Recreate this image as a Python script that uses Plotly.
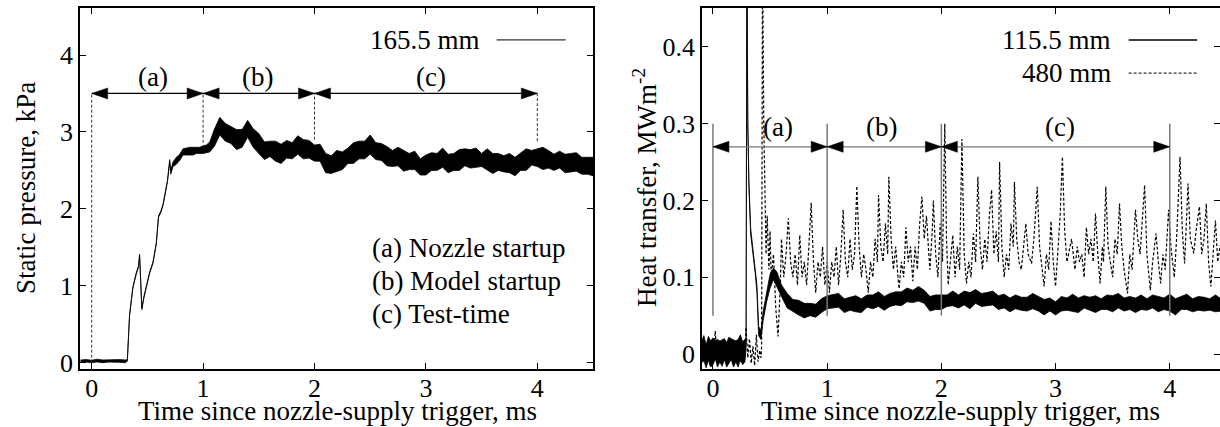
import plotly.graph_objects as go

# ---------------- data: left panel (static pressure, kPa) ----------------
p_t = [-0.10, -0.05, 0.00, 0.05, 0.10, 0.15, 0.20, 0.25, 0.30, 0.32, 0.34, 0.37, 0.40, 0.42, 0.43,
       0.45, 0.47, 0.49, 0.52, 0.55, 0.58, 0.60, 0.62, 0.64, 0.66, 0.68, 0.70, 0.71, 0.73, 0.76,
       0.79, 0.82, 0.85, 0.88, 0.91, 0.94, 0.97, 1.00, 1.03, 1.06,
       1.10, 1.15, 1.20, 1.25, 1.30, 1.35, 1.40, 1.45, 1.50, 1.55, 1.60, 1.65, 1.70, 1.75, 1.80,
       1.85, 1.90, 1.95, 2.00, 2.05, 2.10, 2.15, 2.20, 2.25, 2.30, 2.35, 2.40, 2.45, 2.50, 2.55,
       2.60, 2.65, 2.70, 2.75, 2.80, 2.85, 2.90, 2.95, 3.00, 3.05, 3.10, 3.15, 3.20, 3.25, 3.30,
       3.35, 3.40, 3.45, 3.50, 3.55, 3.60, 3.65, 3.70, 3.75, 3.80, 3.85, 3.90, 3.95, 4.00, 4.05,
       4.10, 4.15, 4.20, 4.25, 4.30, 4.35, 4.40, 4.45, 4.50]
p_mid = [0.02, 0.02, 0.02, 0.025, 0.02, 0.02, 0.025, 0.02, 0.02, 0.03, 0.62, 0.98, 1.16, 1.25, 1.40,
         0.70, 0.86, 0.99, 1.17, 1.30, 1.55, 1.90, 1.96, 2.05, 2.20, 2.36, 2.62, 2.48, 2.58, 2.62,
         2.68, 2.73, 2.75, 2.74, 2.76, 2.75, 2.77, 2.76, 2.78, 2.80,
         2.93, 3.05, 3.02, 2.95, 2.88, 2.95, 3.02, 2.93, 2.82, 2.78, 2.76, 2.74, 2.74, 2.76, 2.78,
         2.80, 2.79, 2.77, 2.74, 2.70, 2.62, 2.56, 2.60, 2.65, 2.68, 2.72, 2.76, 2.80, 2.81, 2.76,
         2.72, 2.70, 2.67, 2.66, 2.64, 2.62, 2.60, 2.57, 2.58, 2.60, 2.62, 2.63, 2.62, 2.61, 2.63,
         2.66, 2.67, 2.66, 2.64, 2.63, 2.61, 2.60, 2.60, 2.58, 2.57, 2.59, 2.63, 2.67, 2.67, 2.66,
         2.64, 2.63, 2.62, 2.61, 2.60, 2.59, 2.58, 2.56, 2.55]
p_up = [0.015, 0.02, 0.012, 0.02, 0.015, 0.018, 0.012, 0.02, 0.015, 0.01, 0.01, 0.01, 0.01, 0.01, 0.01,
        0.01, 0.01, 0.01, 0.01, 0.01, 0.01, 0.01, 0.01, 0.01, 0.01, 0.01, 0.02, 0.02, 0.03, 0.05,
        0.03, 0.05, 0.04, 0.06, 0.04, 0.05, 0.03, 0.06, 0.05, 0.07,
        0.10, 0.14, 0.09, 0.12, 0.15, 0.08, 0.13, 0.11, 0.16, 0.09, 0.12, 0.14, 0.10, 0.13, 0.08,
        0.15, 0.11, 0.12, 0.09, 0.14, 0.10, 0.13, 0.16, 0.09, 0.11, 0.14, 0.12, 0.08, 0.15, 0.10,
        0.13, 0.11, 0.09, 0.14, 0.12, 0.10, 0.15, 0.08, 0.12, 0.13, 0.10, 0.16, 0.09, 0.11, 0.14,
        0.12, 0.10, 0.13, 0.08, 0.15, 0.11, 0.12, 0.09, 0.14, 0.10, 0.13, 0.15, 0.09, 0.11, 0.14,
        0.12, 0.08, 0.13, 0.10, 0.12, 0.14, 0.09, 0.11, 0.12]
p_dn = [0.015, 0.012, 0.02, 0.015, 0.02, 0.012, 0.018, 0.015, 0.02, 0.01, 0.01, 0.01, 0.01, 0.01, 0.01,
        0.01, 0.01, 0.01, 0.01, 0.01, 0.01, 0.01, 0.01, 0.01, 0.01, 0.01, 0.02, 0.03, 0.03, 0.04,
        0.05, 0.03, 0.05, 0.04, 0.06, 0.03, 0.05, 0.04, 0.05, 0.06,
        0.12, 0.09, 0.14, 0.10, 0.11, 0.15, 0.09, 0.13, 0.10, 0.14, 0.08, 0.12, 0.15, 0.10, 0.13,
        0.09, 0.14, 0.11, 0.12, 0.08, 0.15, 0.10, 0.12, 0.14, 0.09, 0.13, 0.11, 0.15, 0.10, 0.12,
        0.09, 0.14, 0.12, 0.10, 0.15, 0.11, 0.09, 0.13, 0.14, 0.10, 0.12, 0.09, 0.15, 0.11, 0.13,
        0.10, 0.14, 0.12, 0.09, 0.13, 0.15, 0.10, 0.12, 0.11, 0.14, 0.09, 0.13, 0.10, 0.12, 0.15,
        0.11, 0.13, 0.09, 0.14, 0.12, 0.10, 0.13, 0.11, 0.12]

# ---------------- data: right panel (heat transfer, MW/m^2) ----------------
h1_t = [-0.10, -0.08, -0.06, -0.04, -0.02, 0.00, 0.02, 0.04, 0.06, 0.08, 0.10, 0.12, 0.14, 0.16,
        0.18, 0.20, 0.22, 0.24, 0.26, 0.28,
        0.29, 0.297, 0.305, 0.315, 0.33, 0.35, 0.37, 0.385, 0.40, 0.42, 0.44,
        0.47, 0.50, 0.53, 0.56, 0.60, 0.65, 0.70, 0.75, 0.80, 0.85, 0.90, 0.95, 1.00,
        1.05, 1.10, 1.15, 1.20, 1.25, 1.30, 1.35, 1.40, 1.45, 1.50, 1.55, 1.60, 1.65, 1.70, 1.75,
        1.80, 1.85, 1.90, 1.95, 2.00, 2.05, 2.10, 2.15, 2.20, 2.25, 2.30, 2.35, 2.40, 2.45, 2.50,
        2.55, 2.60, 2.65, 2.70, 2.75, 2.80, 2.85, 2.90, 2.95, 3.00, 3.05, 3.10, 3.15, 3.20, 3.25,
        3.30, 3.35, 3.40, 3.45, 3.50, 3.55, 3.60, 3.65, 3.70, 3.75, 3.80, 3.85, 3.90, 3.95, 4.00,
        4.05, 4.10, 4.15, 4.20, 4.25, 4.30, 4.35, 4.40, 4.45]
h1_mid = [0.002, 0.004, 0.0, 0.005, 0.003, 0.001, 0.006, 0.002, 0.004, 0.0, 0.005, 0.003, 0.002, 0.006,
          0.001, 0.004, 0.003, 0.005, 0.002, 0.004,
          0.01, 0.52, 0.30, 0.22, 0.16, 0.135, 0.11, 0.085, 0.03, 0.025, 0.05,
          0.075, 0.095, 0.105, 0.097, 0.082, 0.07, 0.064, 0.06, 0.058, 0.057, 0.058, 0.062, 0.068,
          0.070, 0.068, 0.066, 0.065, 0.064, 0.065, 0.067, 0.069, 0.070, 0.069, 0.070, 0.071, 0.074,
          0.076, 0.077, 0.076, 0.075, 0.068, 0.066, 0.068, 0.070, 0.070, 0.071, 0.072, 0.072, 0.073,
          0.072, 0.071, 0.070, 0.069, 0.068, 0.067, 0.066, 0.066, 0.067, 0.067, 0.066, 0.064, 0.063,
          0.062, 0.064, 0.065, 0.066, 0.066, 0.067, 0.066, 0.065, 0.066, 0.067, 0.068, 0.067, 0.066,
          0.066, 0.065, 0.066, 0.066, 0.067, 0.067, 0.066, 0.066, 0.064, 0.066, 0.067, 0.066, 0.065,
          0.066, 0.065, 0.066, 0.065]
h1_up = [0.015, 0.02, 0.012, 0.018, 0.014, 0.02, 0.012, 0.017, 0.013, 0.019, 0.015, 0.012, 0.02, 0.014,
         0.018, 0.013, 0.016, 0.02, 0.014, 0.015,
         0.003, 0.0, 0.003, 0.003, 0.004, 0.004, 0.005, 0.005, 0.006, 0.006, 0.006,
         0.008, 0.009, 0.007, 0.010, 0.008, 0.009, 0.007, 0.010, 0.008, 0.009, 0.007, 0.010, 0.008,
         0.008, 0.011, 0.006, 0.009, 0.012, 0.007, 0.010, 0.008, 0.011, 0.006, 0.009, 0.010, 0.007,
         0.010, 0.006, 0.012, 0.008, 0.007, 0.011, 0.009, 0.007, 0.012, 0.006, 0.010, 0.008, 0.011,
         0.007, 0.009, 0.012, 0.007, 0.010, 0.006, 0.011, 0.008, 0.007, 0.012, 0.009, 0.007, 0.010,
         0.006, 0.011, 0.008, 0.012, 0.007, 0.009, 0.008, 0.011, 0.006, 0.010, 0.008, 0.012, 0.007,
         0.009, 0.008, 0.011, 0.006, 0.010, 0.008, 0.007, 0.012, 0.008, 0.009, 0.011, 0.006, 0.010,
         0.008, 0.007, 0.011, 0.007]
h1_dn = [0.014, 0.012, 0.018, 0.013, 0.02, 0.015, 0.012, 0.019, 0.014, 0.016, 0.012, 0.02, 0.015, 0.013,
         0.018, 0.014, 0.02, 0.012, 0.016, 0.014,
         0.003, 0.0, 0.003, 0.003, 0.004, 0.004, 0.005, 0.005, 0.006, 0.006, 0.006,
         0.007, 0.009, 0.008, 0.010, 0.007, 0.010, 0.008, 0.009, 0.011, 0.007, 0.010, 0.008, 0.009,
         0.010, 0.007, 0.012, 0.008, 0.009, 0.011, 0.006, 0.010, 0.008, 0.012, 0.008, 0.007, 0.011,
         0.008, 0.010, 0.007, 0.009, 0.012, 0.008, 0.010, 0.008, 0.007, 0.011, 0.008, 0.013, 0.007,
         0.010, 0.008, 0.006, 0.011, 0.008, 0.012, 0.007, 0.009, 0.011, 0.008, 0.010, 0.013, 0.007,
         0.011, 0.008, 0.008, 0.010, 0.012, 0.007, 0.009, 0.011, 0.008, 0.009, 0.013, 0.007, 0.010,
         0.008, 0.011, 0.008, 0.009, 0.007, 0.012, 0.008, 0.010, 0.013, 0.008, 0.009, 0.011, 0.008,
         0.010, 0.008, 0.011, 0.009]

h2_t = [-0.100, -0.085, -0.070, -0.055, -0.040, -0.025, -0.010, 0.005, 0.020, 0.035, 0.050, 0.065,
        0.080, 0.095, 0.110, 0.125, 0.140, 0.155, 0.170, 0.185, 0.200, 0.215, 0.230, 0.245, 0.260,
        0.275, 0.290, 0.305, 0.320, 0.335, 0.350, 0.365, 0.380, 0.395, 0.410, 0.420, 0.426, 0.434,
        0.445, 0.455, 0.465, 0.475,
        0.49, 0.50, 0.51, 0.53, 0.55, 0.57, 0.59, 0.60, 0.62, 0.64, 0.66, 0.68, 0.70, 0.72, 0.74,
        0.76, 0.78, 0.80, 0.82, 0.84, 0.86, 0.88, 0.90, 0.92, 0.94, 0.96, 0.98, 1.00, 1.02, 1.04,
        1.06, 1.08, 1.10, 1.12, 1.14, 1.16, 1.18, 1.20, 1.22, 1.24, 1.26, 1.28, 1.30, 1.32, 1.34,
        1.36, 1.38, 1.40, 1.42, 1.44, 1.45, 1.47, 1.49, 1.51, 1.53, 1.54, 1.56, 1.58, 1.60, 1.62,
        1.63, 1.65, 1.67, 1.69, 1.71, 1.73, 1.75, 1.77, 1.79, 1.81, 1.83, 1.85, 1.87, 1.89, 1.90,
        1.92, 1.93, 1.95, 1.97, 1.99, 2.01, 2.03, 2.045, 2.06, 2.08, 2.10, 2.12, 2.14, 2.16, 2.18,
        2.20, 2.22, 2.24, 2.26, 2.28, 2.30, 2.32, 2.34, 2.36, 2.38, 2.40, 2.42, 2.44, 2.46, 2.48,
        2.50, 2.51, 2.53, 2.55, 2.57, 2.59, 2.61, 2.63, 2.64, 2.66, 2.68, 2.70, 2.72, 2.74, 2.76,
        2.79, 2.81, 2.84, 2.86, 2.88, 2.90, 2.92, 2.94, 2.96, 2.98, 3.00, 3.02, 3.04, 3.06, 3.08,
        3.10, 3.12, 3.14, 3.17, 3.19, 3.21, 3.23, 3.25, 3.27, 3.29, 3.31, 3.33, 3.35, 3.37, 3.39,
        3.41, 3.42, 3.44, 3.46, 3.48, 3.50, 3.52, 3.54, 3.56, 3.58, 3.60, 3.63, 3.65, 3.67, 3.70,
        3.72, 3.74, 3.76, 3.78, 3.80, 3.83, 3.85, 3.88, 3.90, 3.92, 3.94, 3.96, 3.99, 4.01, 4.04,
        4.06, 4.09, 4.11, 4.13, 4.14, 4.16, 4.18, 4.21, 4.23, 4.26, 4.28, 4.30, 4.32, 4.34, 4.36,
        4.38, 4.40, 4.42, 4.44, 4.46]
h2_v = [0.005, -0.010, 0.015, -0.005, 0.010, -0.015, 0.020, -0.008, 0.030, -0.010, 0.012, -0.012,
        0.008, -0.005, 0.015, -0.010, 0.020, -0.008, 0.012, -0.015, 0.018, -0.005, 0.010, -0.012, 0.015,
        -0.010, 0.035, -0.005, 0.020, -0.012, 0.010, -0.015, 0.025, -0.010, 0.005, -0.005, 0.010, 0.52,
        0.30, 0.22, 0.13, 0.18,
        0.11, 0.16, 0.10, 0.13, 0.06, 0.023, 0.09, 0.15, 0.10, 0.13, 0.177, 0.12, 0.10, 0.13, 0.09,
        0.155, 0.10, 0.12, 0.09, 0.14, 0.197, 0.12, 0.08, 0.12, 0.10, 0.14, 0.09, 0.12, 0.08, 0.12,
        0.10, 0.14, 0.09, 0.13, 0.188, 0.12, 0.10, 0.15, 0.11, 0.13, 0.219, 0.14, 0.10, 0.13, 0.11,
        0.08, 0.12, 0.10, 0.15, 0.12, 0.207, 0.14, 0.12, 0.17, 0.13, 0.231, 0.15, 0.11, 0.14, 0.10,
        0.085, 0.12, 0.10, 0.165, 0.12, 0.14, 0.095, 0.14, 0.11, 0.17, 0.205, 0.15, 0.18, 0.13, 0.11,
        0.16, 0.20, 0.13, 0.10, 0.17, 0.12, 0.30, 0.15, 0.09, 0.12, 0.155, 0.10, 0.14, 0.11, 0.28,
        0.13, 0.092, 0.12, 0.10, 0.157, 0.12, 0.231, 0.14, 0.11, 0.15, 0.12, 0.18, 0.214, 0.13, 0.16,
        0.12, 0.25, 0.14, 0.10, 0.13, 0.11, 0.17, 0.14, 0.224, 0.15, 0.12, 0.11, 0.14, 0.17, 0.13,
        0.118, 0.15, 0.218, 0.14, 0.11, 0.088, 0.13, 0.11, 0.173, 0.12, 0.088, 0.14, 0.18, 0.257, 0.16,
        0.12, 0.135, 0.15, 0.11, 0.14, 0.12, 0.13, 0.10, 0.165, 0.13, 0.15, 0.12, 0.183, 0.13, 0.092,
        0.14, 0.12, 0.218, 0.14, 0.12, 0.10, 0.15, 0.13, 0.196, 0.14, 0.11, 0.079, 0.13, 0.11, 0.188,
        0.15, 0.13, 0.17, 0.22, 0.13, 0.083, 0.12, 0.157, 0.12, 0.092, 0.13, 0.11, 0.188, 0.14, 0.10,
        0.15, 0.257, 0.16, 0.118, 0.16, 0.222, 0.15, 0.131, 0.16, 0.192, 0.13, 0.15, 0.196, 0.12, 0.088,
        0.13, 0.174, 0.12, 0.14, 0.15]

# phase boundaries (ms) and labels
phase_bounds = [0.0, 1.0, 2.0, 4.0]
phase_labels = ["(a)", "(b)", "(c)"]
p_label_x = [0.55, 1.49, 3.05]
h_label_x = [0.57, 1.48, 3.04]
p_arrow_y = 3.5
h_arrow_y = 0.27
p_vline_bottom = [0.0, 2.86, 2.90, 2.88]
h_vline_span = [0.05, 0.30]
notes = ["(a) Nozzle startup", "(b) Model startup", "(c) Test-time"]

# ---------------- layout geometry ----------------
W, H = 1220, 427
TOP, BOT = 8, 369
X1 = (80, 593)
X2 = (702, 1220)
x1_range = [-0.105, 4.5]
y1_range = [-0.082, 4.611]
x2_range = [-0.096, 4.44]
y2_range = [-0.0195, 0.4508]
FONT = "'Liberation Serif', 'Times New Roman', Times, serif"
FS = 27
TFS = 26

ydom = [(H - BOT) / H, (H - TOP) / H]


def band(t, mid, up, dn):
    hi = [m + u for m, u in zip(mid, up)]
    lo = [m - d for m, d in zip(mid, dn)]
    return t + t[::-1], hi + lo[::-1]


fig = go.Figure()

bx, by = band(p_t, p_mid, p_up, p_dn)
fig.add_trace(go.Scatter(x=bx, y=by, mode="lines", fill="toself", fillcolor="black",
                         line=dict(color="black", width=0.8), xaxis="x", yaxis="y",
                         hoverinfo="skip", showlegend=False))

fig.add_trace(go.Scatter(x=h2_t, y=h2_v, mode="lines",
                         line=dict(color="black", width=1.2, dash="3px,2px"),
                         xaxis="x2", yaxis="y2", showlegend=False))
bx, by = band(h1_t, h1_mid, h1_up, h1_dn)
fig.add_trace(go.Scatter(x=bx, y=by, mode="lines", fill="toself", fillcolor="black",
                         line=dict(color="black", width=0.8), xaxis="x2", yaxis="y2",
                         hoverinfo="skip", showlegend=False))

shapes = []
annotations = []


def txt(**kw):
    kw.setdefault("showarrow", False)
    kw.setdefault("xanchor", "center")
    kw.setdefault("yanchor", "middle")
    kw.setdefault("font", dict(family=FONT, size=FS, color="black"))
    annotations.append(kw)


def arrows(xref, yref, y, color, xpx_per_unit, ypx_per_unit):
    L = 16 / xpx_per_unit
    w = 5.5 / ypx_per_unit
    shapes.append(dict(type="line", xref=xref, yref=yref, x0=phase_bounds[0], x1=phase_bounds[-1],
                       y0=y, y1=y, line=dict(color=color, width=1.2), layer="above"))
    for a, b in zip(phase_bounds[:-1], phase_bounds[1:]):
        for tip, base in ((a, a + L), (b, b - L)):
            shapes.append(dict(type="path", xref=xref, yref=yref,
                               path=f"M {tip},{y} L {base},{y + w} L {base},{y - w} Z",
                               fillcolor="black", line=dict(color="black", width=0.5), layer="above"))


px1 = (X1[1] - X1[0]) / (x1_range[1] - x1_range[0])
py1 = (BOT - TOP) / (y1_range[1] - y1_range[0])
px2 = (X2[1] - X2[0]) / (x2_range[1] - x2_range[0])
py2 = (BOT - TOP) / (y2_range[1] - y2_range[0])

# left panel annotations
for xb, yb in zip(phase_bounds, p_vline_bottom):
    shapes.append(dict(type="line", xref="x", yref="y", x0=xb, x1=xb, y0=yb, y1=p_arrow_y,
                       line=dict(color="#333", width=1, dash="3px,2px"), layer="above"))
arrows("x", "y", p_arrow_y, "black", px1, py1)
for lx, lab in zip(p_label_x, phase_labels):
    txt(xref="x", yref="y", x=lx, y=3.72, text=lab)

# right panel annotations
for xb in phase_bounds:
    shapes.append(dict(type="line", xref="x2", yref="y2", x0=xb, x1=xb, y0=h_vline_span[0],
                       y1=h_vline_span[1], line=dict(color="#777", width=1.5), layer="above"))
arrows("x2", "y2", h_arrow_y, "#777", px2, py2)
for lx, lab in zip(h_label_x, phase_labels):
    txt(xref="x2", yref="y2", x=lx, y=0.296, text=lab)

# notes block in left panel
for i, note in enumerate(notes):
    txt(xref="x", yref="y", x=2.50, y=1.49 - 0.43 * i, text=note, xanchor="left")

# legend-like keys
txt(xref="x", yref="y", x=3.50, y=4.196, text="165.5 mm", xanchor="right")
shapes.append(dict(type="line", xref="x", yref="y", x0=3.635, x1=4.255, y0=4.196, y1=4.196,
                   line=dict(color="black", width=1)))
txt(xref="x2", yref="y2", x=3.50, y=0.409, text="115.5 mm", xanchor="right")
shapes.append(dict(type="line", xref="x2", yref="y2", x0=3.64, x1=4.24, y0=0.409, y1=0.409,
                   line=dict(color="black", width=1.5)))
txt(xref="x2", yref="y2", x=3.50, y=0.366, text="480 mm", xanchor="right")
shapes.append(dict(type="line", xref="x2", yref="y2", x0=3.64, x1=4.24, y0=0.366, y1=0.366,
                   line=dict(color="black", width=1, dash="3px,2px")))

# axis titles
txt(xref="paper", yref="paper", x=26 / W, y=(H - 188) / H, text="Static pressure, kPa", textangle=-90)
txt(xref="paper", yref="paper", x=645 / W, y=(H - 188) / H,
    text="Heat transfer, MWm<sup>-2</sup>", textangle=-90)
txt(xref="paper", yref="paper", x=337 / W, y=(H - 411) / H, text="Time since nozzle-supply trigger, ms")
txt(xref="paper", yref="paper", x=960 / W, y=(H - 411) / H, text="Time since nozzle-supply trigger, ms")

axis_common = dict(showline=True, linecolor="black", linewidth=1.5, mirror="ticks",
                   ticks="inside", ticklen=6, tickcolor="black", tickwidth=1,
                   showgrid=False, zeroline=False, automargin=False,
                   tickfont=dict(family=FONT, size=TFS, color="black"))

fig.update_layout(
    width=W, height=H, margin=dict(l=0, r=0, t=0, b=0),
    paper_bgcolor="white", plot_bgcolor="white", showlegend=False,
    font=dict(family=FONT, size=FS, color="black"),
    xaxis=dict(domain=[X1[0] / W, X1[1] / W], range=x1_range, anchor="y",
               tickvals=[0, 1, 2, 3, 4], ticklabelstandoff=-5, **axis_common),
    yaxis=dict(domain=ydom, range=y1_range, anchor="x",
               tickvals=[0, 1, 2, 3, 4], ticklabelstandoff=0, **axis_common),
    xaxis2=dict(domain=[X2[0] / W, X2[1] / W], range=x2_range, anchor="y2",
                tickvals=[0, 1, 2, 3, 4], ticklabelstandoff=-5, **axis_common),
    yaxis2=dict(domain=ydom, range=y2_range, anchor="x2",
                tickvals=[0, 0.1, 0.2, 0.3, 0.4], ticklabelstandoff=0, **axis_common),
    shapes=shapes, annotations=annotations,
)

fig.write_html("out.html", config={"displayModeBar": False},
               post_script="document.body.style.margin='0px';document.body.style.overflow='hidden';")
